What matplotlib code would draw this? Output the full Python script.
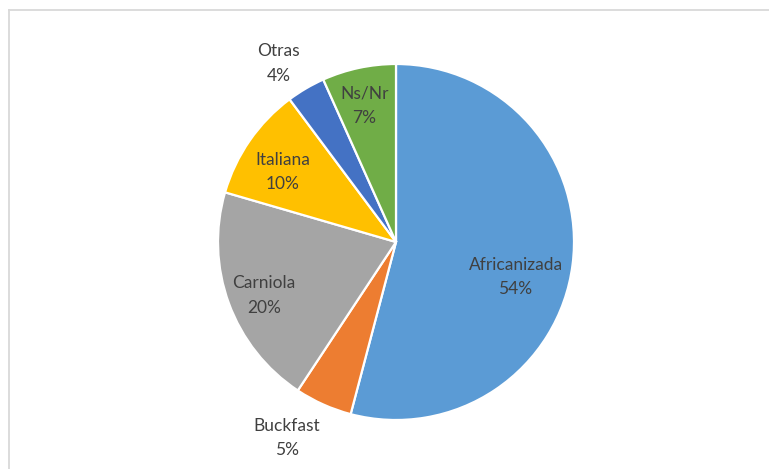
import numpy as np
import matplotlib
matplotlib.use('Agg')
import matplotlib.pyplot as plt
from matplotlib.lines import Line2D

# data (percent of apiaries by bee race)
razas = ['Africanizada', 'Buckfast', 'Carniola', 'Italiana', 'Otras', 'Ns/Nr']
valores = [54.1, 5.2, 20.2, 10.3, 3.5, 6.7]
etiquetas_pct = ['54%', '5%', '20%', '10%', '4%', '7%']

colores = ['#5B9BD5', '#ED7D31', '#A5A5A5', '#FFC000', '#4472C4', '#70AD47']
dist_etiqueta = [0.70, 1.26, 0.80, 0.75, 1.20, 0.785]  # radial distance of each label
ajuste_angulo = [-9, -5, 2, 3, 3, 1]  # small nudges, Excel "best fit"

W, H = 769, 469
fig = plt.figure(figsize=(W / 100, H / 100), dpi=100)

cx, cy, r = 396, 469 - 242, 178
half = 200
ax = fig.add_axes([(cx - half) / W, (cy - half) / H, 2 * half / W, 2 * half / H])
lim = half / r

wedges, _ = ax.pie(valores, colors=colores, startangle=90, counterclock=False,
                   wedgeprops=dict(edgecolor='white', linewidth=1.6),
                   radius=1.0, frame=True)
ax.set_xlim(-lim, lim)
ax.set_ylim(-lim, lim)
ax.axis('off')

for w, nombre, pct, d, da in zip(wedges, razas, etiquetas_pct, dist_etiqueta, ajuste_angulo):
    ang = np.deg2rad((w.theta1 + w.theta2) / 2 + da)
    x, y = d * np.cos(ang), d * np.sin(ang)
    ax.text(x, y, nombre + '\n' + pct, ha='center', va='center', fontsize=12.5,
            color='#404040', family='Lato', linespacing=1.65)

# light grey chart-area border (left and top edges visible)
fig.add_artist(Line2D([8.5 / W, 8.5 / W], [0, (H - 10.5) / H], color='#D9D9D9', lw=1.3,
                      transform=fig.transFigure))
fig.add_artist(Line2D([8.5 / W, 1], [(H - 10.5) / H, (H - 10.5) / H], color='#D9D9D9', lw=1.3,
                      transform=fig.transFigure))

fig.savefig('out.png', dpi=100)
